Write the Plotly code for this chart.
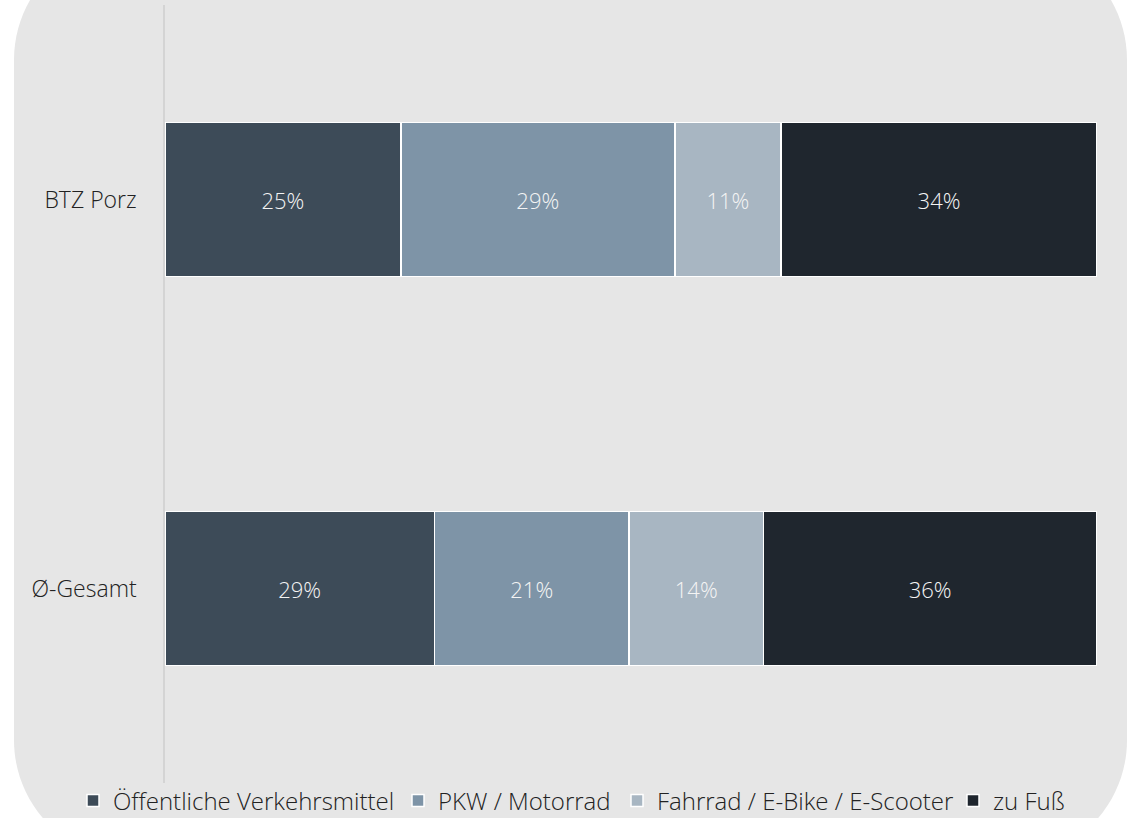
import plotly.graph_objects as go

categories = ["BTZ Porz", "Ø-Gesamt"]
series_names = ["Öffentliche Verkehrsmittel", "PKW / Motorrad", "Fahrrad / E-Bike / E-Scooter", "zu Fuß"]
values_oev = [0.253, 0.289]
values_pkw = [0.294, 0.209]
values_rad = [0.114, 0.144]
values_fuss = [0.339, 0.358]
colors = ["#3d4b58", "#7e94a7", "#a8b6c2", "#1f262e"]
legend_text_x = [113, 438, 657, 993]

W, H = 1133, 818
ML, MR, MT, MB = 165, 36, 5, 35
PW, PH = W - ML - MR, H - MT - MB

def px(x):
    return (x - ML) / PW

def py(y):
    return (H - MB - y) / PH

legend_ids = ["legend", "legend2", "legend3", "legend4"]

fig = go.Figure()
for name, vals, col, lid in zip(series_names, [values_oev, values_pkw, values_rad, values_fuss], colors, legend_ids):
    fig.add_trace(go.Bar(
        y=categories, x=vals, name=name, orientation="h", legend=lid,
        marker=dict(color=col, line=dict(color="white", width=1.5)),
        text=[f"{round(v*100)}%" for v in vals],
        textposition="inside", insidetextanchor="middle",
        textfont=dict(color="#f4f4f4", size=22, family="Open Sans", weight=300),
        hoverinfo="skip",
    ))

# rounded background
L, R, T, B = 14, 1127, -60, 860
r = 120
k = 0.5523 * r
pts = [
    ("M", [(L + r, T)]),
    ("L", [(R - r, T)]),
    ("C", [(R - r + k, T), (R, T + r - k), (R, T + r)]),
    ("L", [(R, B - r)]),
    ("C", [(R, B - r + k), (R - r + k, B), (R - r, B)]),
    ("L", [(L + r, B)]),
    ("C", [(L + r - k, B), (L, B - r + k), (L, B - r)]),
    ("L", [(L, T + r)]),
    ("C", [(L, T + r - k), (L + r - k, T), (L + r, T)]),
]
path = ""
for cmd, ps in pts:
    path += cmd + " " + " ".join(f"{px(x):.5f},{py(y):.5f}" for x, y in ps) + " "
path += "Z"

fig.add_shape(type="path", path=path, xref="paper", yref="paper",
              fillcolor="#e6e6e6", line=dict(width=0), layer="below")

legend_layout = {}
for lid, tx in zip(legend_ids, legend_text_x):
    legend_layout[lid] = dict(
        orientation="h", x=px(tx - 40), xanchor="left", y=py(801), yanchor="middle",
        font=dict(size=24, color="#222222", family="Open Sans", weight=300),
        bgcolor="rgba(0,0,0,0)", itemwidth=30, borderwidth=0,
    )

fig.update_layout(
    width=W, height=H,
    margin=dict(l=ML, r=MR, t=MT, b=MB, autoexpand=False),
    barmode="stack", bargap=0.604,
    paper_bgcolor="white", plot_bgcolor="rgba(0,0,0,0)",
    font=dict(family="Open Sans", size=22, color="#222222", weight=300),
    showlegend=True,
    xaxis=dict(range=[0, 1], visible=False, fixedrange=True),
    yaxis=dict(autorange="reversed", showline=True, linecolor="#d4d4d4", linewidth=1.5,
               showgrid=False, zeroline=False, ticks="", ticklabelstandoff=22,
               tickfont=dict(size=23, color="#222222", family="Open Sans", weight=300)),
    uniformtext=dict(mode=False),
    **legend_layout,
)

fig.write_html("out.html", config={"displayModeBar": False},
               post_script="document.body.style.margin='0';document.body.style.padding='0';")
